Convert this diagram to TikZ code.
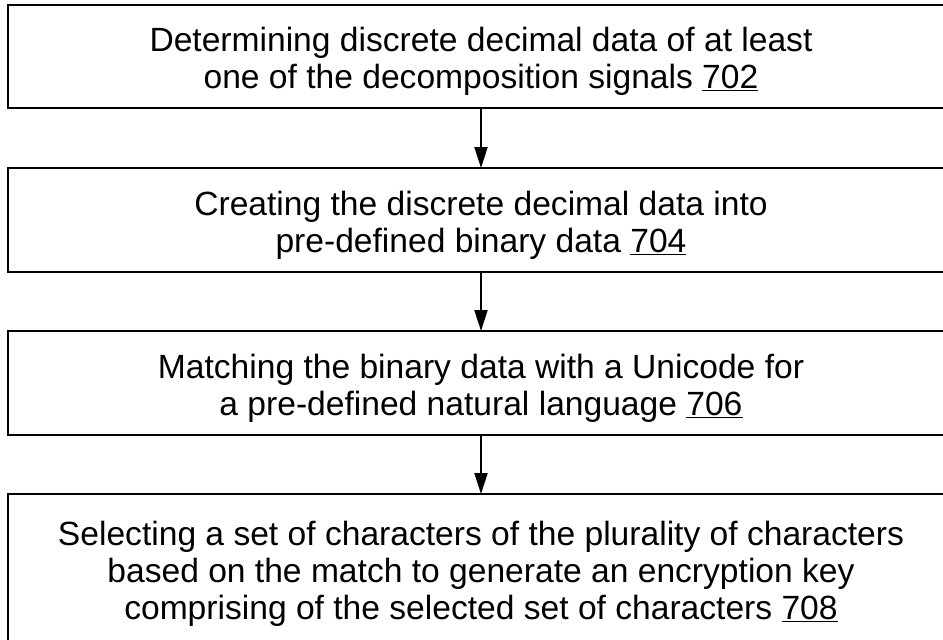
\documentclass[tikz,border=0pt]{standalone}
\usepackage{fontspec}
\setmainfont{Liberation Sans}
\usetikzlibrary{arrows.meta,calc}
\begin{document}
\begin{tikzpicture}[x=1pt,y=-1pt,
  stepbox/.style={draw=black, line width=2pt, rectangle, minimum width=946pt, inner sep=0pt},
  steptext/.style={align=center, font=\fontsize{33.6}{37}\selectfont, inner sep=0pt},
  arr/.style={line width=2pt, -{Triangle[length=21pt,width=13pt]}, shorten >=-1pt}]
\useasboundingbox (0,0) rectangle (943,640);
\clip (0,0) rectangle (943,640);
\fill[white] (0,0) rectangle (943,640);
\node[stepbox, minimum height=103pt] (b1) at (481,56.5) {};
\node[stepbox, minimum height=104pt] (b2) at (481,220) {};
\node[stepbox, minimum height=104pt] (b3) at (481,383) {};
\node[stepbox, minimum height=160pt] (b4) at (481,574) {};
\node[steptext] (t1) at ($(b1.center)+(0,5)$)
  {Determining discrete decimal data of at least\\one of the decomposition signals \underline{702}};
\node[steptext] (t2) at ($(b2.center)+(0,5)$)
  {Creating the discrete decimal data into\\pre-defined binary data \underline{704}};
\node[steptext] (t3) at ($(b3.center)+(0,5)$)
  {Matching the binary data with a Unicode for\\a pre-defined natural language \underline{706}};
\node[steptext] (t4) at ($(b4.center)+(0,0)$)
  {Selecting a set of characters of the plurality of characters\\based on the match to generate an encryption key\\comprising of the selected set of characters \underline{708}};
\draw[arr] (b1.south) -- (b2.north);
\draw[arr] (b2.south) -- (b3.north);
\draw[arr] (b3.south) -- (b4.north);
\end{tikzpicture}
\end{document}
